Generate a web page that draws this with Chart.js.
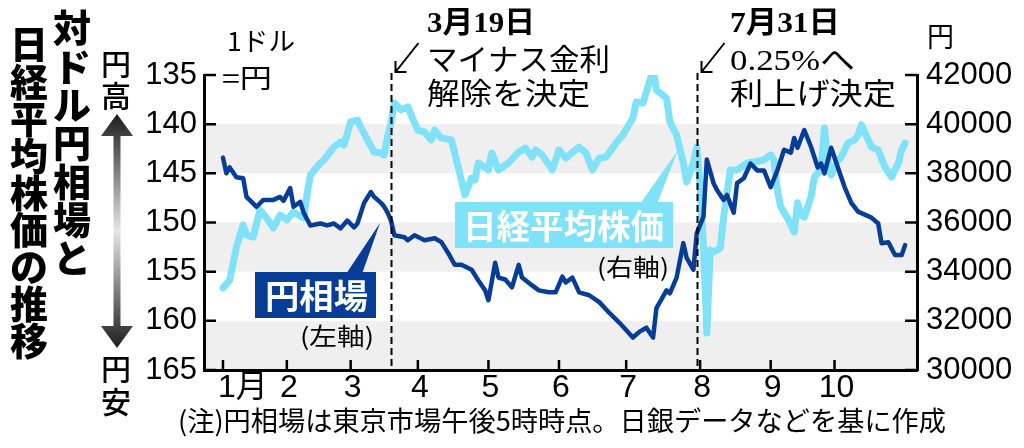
<!DOCTYPE html>
<html lang="ja">
<head>
<meta charset="utf-8">
<script src="https://cdn.jsdelivr.net/npm/chart.js@4.4.1/dist/chart.umd.min.js"></script>
<style>
  html, body { margin: 0; padding: 0; background: #fff; }
  #wrap { position: relative; width: 1024px; height: 448px; }
</style>
</head>
<body>
<div id="wrap"><canvas id="chart"></canvas></div>
<script>
// x axis = trading day number in 2024 (0 = Jan 4)
var monthLabels = ["1月", "2", "3", "4", "5", "6", "7", "8", "9", "10"];
var monthStart = [0, 19, 38, 58, 79, 100, 120, 142, 163, 182];

// 円相場 (1ドル=円, left axis)
var yenDays = [0, 1, 2, 4, 6, 7, 10, 12, 15, 17, 18, 20, 21, 23, 24, 26, 29, 31, 33, 35,
  37, 39, 40, 42, 44, 45, 47, 48, 49, 50, 51, 54, 55, 57, 60, 63, 65, 67, 69, 71,
  74, 76, 78, 79, 81, 82, 84, 86, 88, 89, 92, 94, 97, 99, 101, 102, 104, 106, 109, 112,
  115, 118, 122, 124, 126, 128, 129, 132, 133, 135, 137, 138, 140, 141, 143, 144, 146, 147, 149, 150,
  152, 153, 155, 157, 159, 161, 163, 165, 167, 169, 170, 171, 173, 175, 177, 178, 179, 181, 183, 185,
  187, 189, 193, 195, 196, 198, 200, 202, 203];
var yenRate = [143.4, 145.0, 144.4, 145.4, 145.5, 147.4, 148.4, 147.7, 147.7, 147.4, 147.8, 146.5, 148.4, 147.9, 149.0, 150.3, 150.1, 150.3, 150.1, 150.6,
  149.8, 150.5, 150.1, 148.0, 146.9, 147.4, 148.0, 148.4, 149.0, 149.8, 151.3, 151.5, 151.8, 151.3, 151.8, 151.6, 152.0, 153.1, 154.3, 154.3,
  154.8, 155.9, 156.9, 157.9, 154.1, 155.6, 155.8, 156.6, 154.3, 155.6, 156.4, 156.9, 157.1, 157.1, 155.5, 156.1, 155.6, 157.1, 157.4, 158.1,
  159.2, 160.2, 161.7, 161.1, 160.7, 161.7, 158.7, 156.9, 157.2, 155.6, 152.1, 153.6, 154.8, 151.1, 149.4, 143.6, 146.0, 146.7, 147.7, 147.2,
  149.0, 146.0, 145.5, 144.0, 144.7, 144.7, 146.4, 144.7, 142.6, 142.9, 141.4, 142.4, 140.6, 142.3, 144.4, 144.0, 145.0, 142.4, 144.4, 146.4,
  148.0, 148.9, 149.5, 150.1, 152.1, 152.0, 153.3, 153.3, 152.3];

// 日経平均株価 (円, right axis)
var nikkeiDays = [0, 2, 4, 6, 7, 9, 11, 13, 15, 17, 19, 21, 24, 25, 26, 29, 30, 33, 35, 36,
  38, 40, 41, 43, 45, 47, 48, 49, 50, 51, 53, 55, 56, 58, 60, 62, 63, 65, 68, 70,
  72, 74, 75, 76, 79, 80, 82, 85, 88, 90, 92, 93, 95, 98, 100, 102, 106, 108, 110, 112,
  114, 117, 119, 122, 123, 125, 128, 129, 132, 133, 135, 137, 138, 140, 141, 142, 143, 144, 145, 146,
  148, 149, 151, 153, 156, 158, 161, 163, 164, 165, 166, 168, 170, 171, 172, 173, 175, 176, 178, 179,
  180, 181, 183, 184, 186, 188, 189, 190, 193, 195, 197, 199, 201, 202, 203];
var nikkeiClose = [33335, 33660, 35000, 35900, 35490, 35400, 36510, 36180, 35780, 36300, 36100, 36430, 36180, 37120, 37930, 38420, 38540, 39070, 39270, 39150,
  40090, 40170, 39880, 39360, 38870, 38830, 38750, 39500, 40050, 40860, 40580, 40700, 40370, 39760, 39680, 39360, 39760, 39440, 39360, 38260,
  37120, 37810, 37730, 38420, 38140, 38830, 38140, 38420, 38870, 39030, 38660, 38950, 38750, 38140, 38950, 38620, 39070, 38830, 38140, 38620,
  38660, 39230, 39560, 40250, 40900, 40860, 42200, 41390, 41060, 40090, 39560, 38420, 37650, 38420, 39070, 37500, 35000, 31500, 34880, 34800,
  34960, 36220, 38140, 38140, 38420, 38460, 38540, 38750, 38540, 37320, 36630, 36180, 35610, 36800, 36300, 36220, 37040, 37850, 38140, 39840,
  38540, 37930, 38540, 38660, 39230, 39360, 39560, 39970, 39070, 38950, 38260, 37850, 38420, 38950, 39230];

var bandRanges = [[140, 145], [150, 155], [160, 165]];
var eventDays = [50, 141];
var eventTitle = ["3月19日", "7月31日"];
var eventText = [["マイナス金利", "解除を決定"], ["0.25%へ", "利上げ決定"]];

var DARK = "#073d97";
var LIGHT = "#7fe2f9";
var BAND = "#efefef";
var NUM = '"Liberation Sans", Arial, "Noto Sans CJK JP", sans-serif';
var JP = '"Noto Sans CJK JP", sans-serif';
var SERIF = '"Liberation Serif", "DejaVu Serif", "Noto Sans CJK JP", serif';

function pts(days, vals) {
  return days.map(function (d, i) { return { x: d, y: vals[i] }; });
}

// draw text squeezed/stretched to span x1..x2
function fitText(c, s, x1, x2, y) {
  var w = c.measureText(s).width;
  c.save();
  c.translate(x1, y);
  c.scale((x2 - x1) / w, 1);
  c.textAlign = "left";
  c.fillText(s, 0, 0);
  c.restore();
}

function vText(c, s, x, y0, pitch) {
  for (var i = 0; i < s.length; i++) c.fillText(s[i], x, y0 + i * pitch);
}

var decor = {
  id: "decor",
  beforeDraw: function (chart) {
    var c = chart.ctx, a = chart.chartArea, y = chart.scales.yYen;
    c.save();
    c.fillStyle = BAND;
    bandRanges.forEach(function (r) {
      var t = y.getPixelForValue(r[0]), b = y.getPixelForValue(r[1]);
      c.fillRect(a.left, t, a.right - a.left, b - t);
    });
    c.restore();
  },
  afterDatasetsDraw: function (chart) {
    var c = chart.ctx, a = chart.chartArea, x = chart.scales.x;
    var yl = chart.scales.yYen, yr = chart.scales.yNikkei;
    c.save();
    c.strokeStyle = "#000";
    // inward tick marks
    c.lineWidth = 2.5;
    c.beginPath();
    yl.ticks.forEach(function (t) {
      var p = yl.getPixelForValue(t.value);
      c.moveTo(a.left, p); c.lineTo(a.left + 12, p);
    });
    yr.ticks.forEach(function (t) {
      var p = yr.getPixelForValue(t.value);
      c.moveTo(a.right, p); c.lineTo(a.right - 12, p);
    });
    monthStart.forEach(function (d) {
      var p = x.getPixelForValue(d);
      c.moveTo(p, a.bottom); c.lineTo(p, a.bottom - 10);
    });
    c.stroke();

    // event lines and arrows
    eventDays.forEach(function (d) {
      var px = Math.round(x.getPixelForValue(d)) + 0.5;
      c.lineWidth = 2;
      c.setLineDash([7, 4]);
      c.beginPath(); c.moveTo(px, 73); c.lineTo(px, a.bottom); c.stroke();
      c.setLineDash([]);
      var tx = px + 4, ty = 72;
      c.beginPath();
      c.moveTo(tx + 23, ty - 29); c.lineTo(tx, ty);
      c.moveTo(tx, ty - 11); c.lineTo(tx, ty); c.lineTo(tx + 11, ty);
      c.stroke();
    });
    c.restore();
  },
  afterDraw: function (chart) {
    var c = chart.ctx, x = chart.scales.x;
    c.save();
    c.fillStyle = "#000";
    c.textBaseline = "middle";

    // month labels
    c.font = "32px " + NUM;
    monthLabels.forEach(function (lab, i) {
      var p = x.getPixelForValue(monthStart[i]);
      if (i === 0) { c.textAlign = "left"; c.fillText(lab, p - 5, 388); }
      else { c.textAlign = "center"; c.fillText(lab, p + 2, 388); }
    });

    // title (vertical)
    c.textAlign = "center";
    c.font = "900 38px " + JP;
    vText(c, "対ドル円相場と", 72, 28, 38.3);
    vText(c, "日経平均株価の推移", 29, 44, 37.1);

    // 円高 / 円安 with arrow
    c.font = "500 30px " + JP;
    vText(c, "円高", 116, 64, 32);
    vText(c, "円安", 116, 369, 33);
    var g = c.createLinearGradient(0, 115, 0, 347);
    g.addColorStop(0, "#1e1e1e");
    g.addColorStop(0.5, "#e6e6e6");
    g.addColorStop(1, "#1e1e1e");
    c.fillStyle = g;
    c.beginPath();
    c.moveTo(117, 114); c.lineTo(133, 136); c.lineTo(120.5, 136); c.lineTo(120.5, 326);
    c.lineTo(133, 326); c.lineTo(117, 348); c.lineTo(101, 326); c.lineTo(113.5, 326);
    c.lineTo(113.5, 136); c.lineTo(101, 136); c.closePath();
    c.fill();

    // unit labels
    c.fillStyle = "#000";
    c.font = "26px " + JP;
    fitText(c, "1ドル", 227, 295, 41);
    fitText(c, "=円", 222, 272, 78);
    c.font = "28px " + JP;
    fitText(c, "円", 927, 954, 36);

    // event notes
    var rows = [24, 62, 96];
    var left = [427, 730];
    var ends = [[535, 610, 590], [840, 855, 896]];
    eventDays.forEach(function (d, k) {
      c.font = "bold 30px " + SERIF;
      fitText(c, eventTitle[k], left[k], ends[k][0], rows[0]);
      c.font = "30px " + SERIF;
      fitText(c, eventText[k][0], left[k], ends[k][1], rows[1]);
      fitText(c, eventText[k][1], left[k], ends[k][2], rows[2]);
    });

    // series labels with pointers
    c.fillStyle = DARK;
    c.beginPath(); c.moveTo(346, 274); c.lineTo(362, 274); c.lineTo(380, 223); c.closePath(); c.fill();
    c.fillRect(255, 272, 121, 46);
    c.fillStyle = LIGHT;
    c.beginPath(); c.moveTo(640, 204); c.lineTo(657, 204); c.lineTo(678, 150); c.closePath(); c.fill();
    c.fillRect(455, 202, 218, 46);
    c.fillStyle = "#fff";
    c.font = "bold 34px " + JP;
    fitText(c, "円相場", 265, 368, 296);
    fitText(c, "日経平均株価", 463, 664, 226);
    c.fillStyle = "#000";
    c.font = "24px " + JP;
    fitText(c, "(左軸)", 300, 374, 336);
    fitText(c, "(右軸)", 597, 669, 267);

    // footnote
    c.font = "27px " + JP;
    fitText(c, "(注)円相場は東京市場午後5時時点。日銀データなどを基に作成", 178, 946, 421);
    c.restore();
  }
};

var ctx = document.getElementById("chart").getContext("2d");
var chart = new Chart(ctx, {
  type: "line",
  data: {
    datasets: [
      {
        label: "円相場",
        data: pts(yenDays, yenRate),
        yAxisID: "yYen",
        borderColor: DARK,
        borderWidth: 4.5,
        pointRadius: 0,
        tension: 0,
        borderJoinStyle: "round",
        borderCapStyle: "round",
      },
      {
        label: "日経平均株価",
        data: pts(nikkeiDays, nikkeiClose),
        yAxisID: "yNikkei",
        borderColor: LIGHT,
        borderWidth: 7,
        pointRadius: 0,
        tension: 0,
        borderJoinStyle: "round",
        borderCapStyle: "round",
      },
    ],
  },
  options: {
    responsive: true,
    maintainAspectRatio: false,
    animation: false,
    layout: { padding: { top: 75, left: 0, right: 0, bottom: 0 } },
    plugins: {
      legend: { display: false },
      tooltip: { enabled: false },
    },
    scales: {
      x: {
        type: "linear",
        min: -5.65,
        max: 206.55,
        grid: { display: false, drawTicks: false },
        ticks: { display: false },
        border: { display: true, color: "#000", width: 3 },
        afterFit: function (s) { s.height = 78; },
      },
      yYen: {
        position: "left",
        reverse: true,
        min: 135,
        max: 165,
        grid: { display: false, drawTicks: false },
        border: { display: true, color: "#000", width: 3 },
        ticks: {
          stepSize: 5,
          padding: 7,
          color: "#000",
          font: { family: NUM, size: 31 },
          callback: function (v) { return String(v); },
        },
        afterFit: function (s) { s.width = 204; },
      },
      yNikkei: {
        position: "right",
        min: 30000,
        max: 42000,
        grid: { display: false, drawTicks: false },
        border: { display: true, color: "#000", width: 3 },
        ticks: {
          stepSize: 2000,
          padding: 9,
          color: "#000",
          font: { family: NUM, size: 31 },
          callback: function (v) { return String(v); },
        },
        afterFit: function (s) { s.width = 107; },
      },
    },
  },
  plugins: [decor],
});
</script>
</body>
</html>
